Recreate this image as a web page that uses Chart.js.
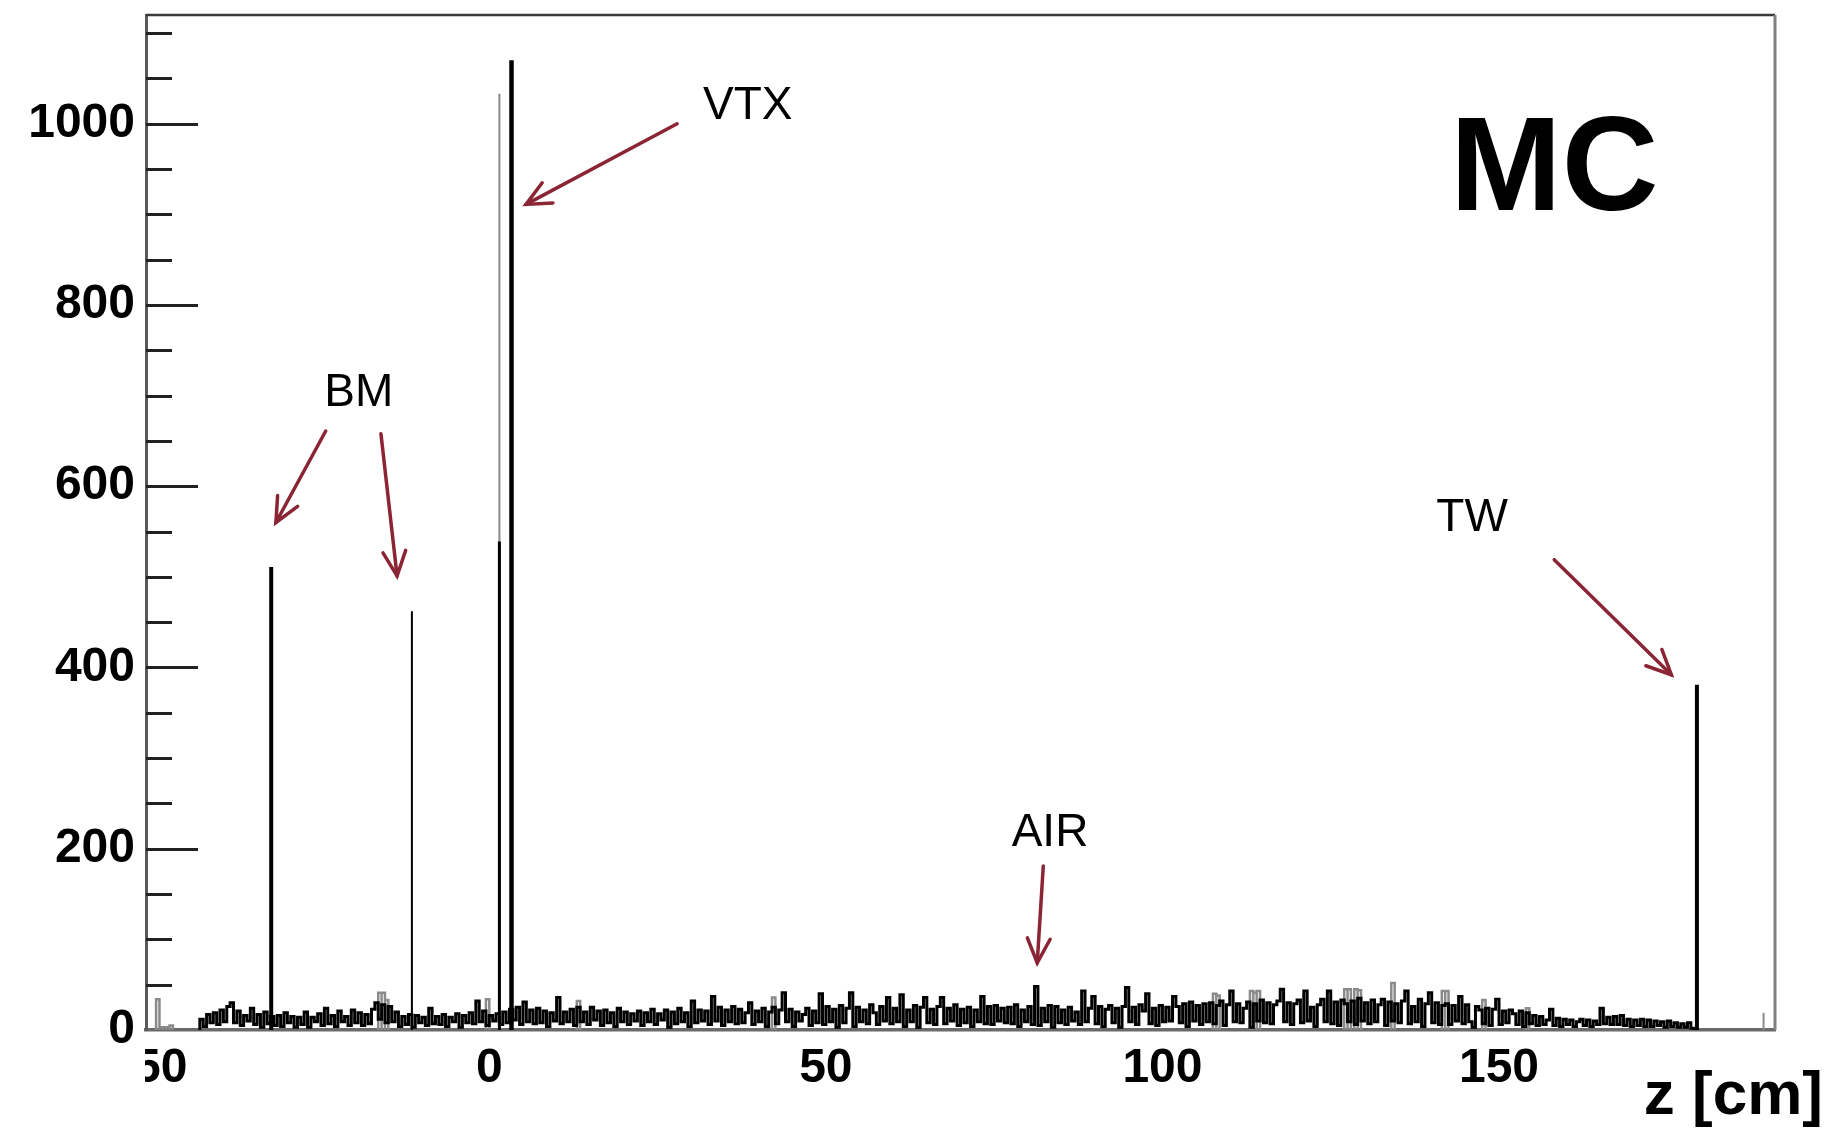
<!DOCTYPE html>
<html>
<head>
<meta charset="utf-8">
<title>z [cm] - MC</title>
<script src="https://cdn.jsdelivr.net/npm/chart.js@4.4.1/dist/chart.umd.min.js"></script>
<style>
  html, body { margin: 0; padding: 0; background: #fff; }
  .contenedor { width: 1830px; height: 1128px; position: relative; }
</style>
</head>
<body>
<div class="contenedor"><canvas id="grafico"></canvas></div>
<script>
// binning of the flat background (cm)
const binStart = -43;
const binWidth = 0.5;

// background counts, one per 0.5 cm bin from z = -43 to z = 179 (10 bins per row)
const backgroundCounts = [
  12, 4, 17, 8, 19, 6, 22, 9, 26, 30,
  8, 21, 5, 16, 10, 24, 6, 17, 3, 20,
  7, 15, 5, 16, 4, 19, 8, 15, 3, 14,
  6, 20, 3, 14, 9, 18, 5, 24, 7, 16,
  4, 21, 9, 15, 5, 22, 8, 19, 5, 17,
  7, 23, 30, 12, 28, 8, 26, 9, 20, 4,
  15, 6, 17, 3, 16, 8, 14, 5, 24, 7,
  15, 6, 17, 4, 14, 9, 18, 3, 16, 8,
  19, 7, 32, 9, 21, 5, 16, 10, 18, 6,
  20, 8, 23, 11, 25, 6, 31, 9, 22, 7,
  24, 8, 21, 4, 19, 10, 36, 7, 20, 9,
  23, 5, 25, 9, 20, 6, 25, 11, 21, 5,
  22, 8, 19, 4, 24, 9, 20, 6, 18, 10,
  21, 5, 19, 9, 23, 6, 18, 11, 22, 3,
  20, 7, 24, 9, 19, 4, 32, 8, 22, 10,
  21, 6, 37, 10, 25, 5, 22, 9, 26, 7,
  23, 8, 19, 30, 6, 21, 9, 24, 4, 20,
  25, 7, 22, 41, 9, 23, 4, 20, 10, 17,
  24, 5, 21, 8, 40, 6, 26, 9, 23, 3,
  27, 8, 24, 41, 4, 25, 9, 22, 7, 28,
  19, 6, 26, 10, 36, 7, 24, 9, 39, 4,
  22, 9, 27, 3, 25, 36, 8, 23, 6, 26,
  36, 7, 24, 10, 28, 5, 23, 8, 25, 4,
  22, 9, 37, 7, 26, 6, 27, 10, 24, 8,
  25, 7, 28, 4, 22, 9, 26, 6, 48, 5,
  24, 9, 27, 3, 26, 8, 22, 6, 25, 10,
  20, 6, 43, 9, 24, 37, 7, 26, 4, 23,
  27, 8, 24, 3, 26, 47, 9, 25, 6, 28,
  21, 40, 7, 24, 5, 27, 9, 25, 10, 37,
  26, 8, 29, 4, 31, 10, 27, 6, 29, 9,
  30, 7, 27, 32, 5, 28, 43, 9, 29, 8,
  24, 31, 3, 29, 10, 33, 8, 30, 7, 28,
  32, 45, 9, 30, 6, 29, 33, 8, 43, 10,
  25, 4, 28, 34, 9, 43, 7, 31, 5, 33,
  29, 9, 32, 6, 35, 10, 30, 7, 33, 9,
  28, 34, 5, 31, 10, 29, 8, 32, 43, 7,
  26, 9, 34, 4, 29, 41, 8, 30, 6, 27,
  29, 6, 27, 10, 37, 7, 28, 9, 3, 26,
  22, 7, 24, 5, 23, 34, 6, 21, 8, 22,
  18, 6, 21, 4, 19, 7, 16, 5, 15, 6,
  11, 23, 5, 13, 4, 12, 6, 11, 4, 9,
  12, 5, 11, 4, 10, 6, 24, 7, 14, 6,
  15, 6, 16, 5, 12, 4, 11, 5, 12, 4,
  11, 4, 10, 5, 9, 3, 10, 4, 8, 3,
  7, 3, 8, 2
];

// grey histogram, bins where it shows above the black one (low edge, counts)
const greyBinZ = [-49.5, -49, -48.5, -48, -47.5, -16.5, -16, -15.5, -0.5, 13, 42,
  107.5, 108, 113, 113.5, 114, 127, 127.5, 128.5, 129, 134, 141.5, 142, 147.5, 154];
const greyBinCounts = [34, 3, 3, 3, 5, 41, 41, 33, 34, 32, 36,
  40, 38, 43, 41, 43, 45, 45, 45, 44, 52, 43, 43, 33, 24];

// detector peaks: BM, BM, VTX, VTX, TW
const peakZ = [-32.4, -11.5, 1.5, 3.3, 179.4];
const peakCounts = [511, 462, 539, 1070, 381];
// grey peaks: VTX, after TW
const greyPeakZ = [1.5, 189.3];
const greyPeakCounts = [1033, 19];

const xTickValues = [-50, 0, 50, 100, 150];
const yTickValues = [0, 200, 400, 600, 800, 1000];

const FONT = '"Liberation Sans", Arial, Helvetica, sans-serif';
const ARROW_COLOR = '#8b2434';

// labels and arrows, anchored in (z, counts)
const notes = [
  { text: 'BM', z: -19.4, count: 689 },
  { text: 'VTX', z: 38.4, count: 1005 },
  { text: 'AIR', z: 83.3, count: 203 },
  { text: 'TW', z: 146.0, count: 551 }
];
const arrows = [
  { from: [-24.3, 661], to: [-31.7, 560] },
  { from: [-16.1, 658], to: [-13.7, 501] },
  { from: [27.9, 1000], to: [5.45, 911] },
  { from: [82.3, 181], to: [81.4, 74] },
  { from: [158.2, 519], to: [175.6, 392] }
];

const backgroundPoints = [{ x: binStart, y: 0 }];
backgroundCounts.forEach((c, i) => backgroundPoints.push({ x: binStart + i * binWidth, y: c }));
backgroundPoints.push({ x: binStart + backgroundCounts.length * binWidth, y: 0 });

const greyPoints = [];
greyBinZ.forEach((z, i) => {
  const c = greyBinCounts[i];
  greyPoints.push({ x: z, y: 0 }, { x: z, y: c }, { x: z + binWidth, y: c }, { x: z + binWidth, y: 0 }, { x: z + binWidth, y: null });
});

function spike(z, c, color, width, order) {
  return {
    data: [{ x: z, y: 0 }, { x: z, y: c }],
    borderColor: color,
    borderWidth: width,
    borderCapStyle: 'butt',
    pointRadius: 0,
    order: order
  };
}

const peakWidths = [4, 2, 3, 4.5, 4];
const greyPeakWidths = [2, 2];

const datasets = [
  {
    data: backgroundPoints,
    borderColor: '#000',
    borderWidth: 3,
    stepped: 'before',
    pointRadius: 0,
    order: 2
  },
  {
    data: greyPoints,
    borderColor: '#8a8a8a',
    borderWidth: 2.5,
    spanGaps: false,
    pointRadius: 0,
    order: 3
  }
];
peakZ.forEach((z, i) => datasets.push(spike(z, peakCounts[i], '#000', peakWidths[i], 0)));
greyPeakZ.forEach((z, i) => datasets.push(spike(z, greyPeakCounts[i], '#8a8a8a', greyPeakWidths[i], 1)));

const annotationPlugin = {
  id: 'anotaciones',
  afterDatasetsDraw(chart) {
    const { ctx } = chart;
    const xs = chart.scales.x, ys = chart.scales.y;
    ctx.save();

    ctx.fillStyle = '#000';
    ctx.textAlign = 'center';
    ctx.textBaseline = 'alphabetic';
    ctx.font = '46px ' + FONT;
    notes.forEach(n => ctx.fillText(n.text, xs.getPixelForValue(n.z), ys.getPixelForValue(n.count)));

    ctx.font = 'bold 134px ' + FONT;
    ctx.fillText('MC', xs.getPixelForValue(158.2), ys.getPixelForValue(905));

    ctx.strokeStyle = ARROW_COLOR;
    ctx.lineWidth = 3.5;
    ctx.lineCap = 'round';
    ctx.lineJoin = 'miter';
    arrows.forEach(a => {
      const x0 = xs.getPixelForValue(a.from[0]), y0 = ys.getPixelForValue(a.from[1]);
      const x1 = xs.getPixelForValue(a.to[0]), y1 = ys.getPixelForValue(a.to[1]);
      const ang = Math.atan2(y0 - y1, x0 - x1);
      const len = 27, spread = 25 * Math.PI / 180;
      ctx.beginPath();
      ctx.moveTo(x0, y0);
      ctx.lineTo(x1, y1);
      ctx.stroke();
      ctx.beginPath();
      ctx.moveTo(x1 + len * Math.cos(ang - spread), y1 + len * Math.sin(ang - spread));
      ctx.lineTo(x1, y1);
      ctx.lineTo(x1 + len * Math.cos(ang + spread), y1 + len * Math.sin(ang + spread));
      ctx.stroke();
    });
    ctx.restore();
  },
  afterDraw(chart) {
    const { ctx, chartArea: area } = chart;
    const ys = chart.scales.y;
    ctx.save();

    // inner ticks on the y axis, major every 200, minor every 50
    ctx.strokeStyle = '#222';
    ctx.lineWidth = 3;
    for (let v = 50; v <= 1100; v += 50) {
      const py = Math.round(ys.getPixelForValue(v)) + 0.5;
      const len = v % 200 === 0 ? 52 : 26;
      ctx.beginPath();
      ctx.moveTo(area.left, py);
      ctx.lineTo(area.left + len, py);
      ctx.stroke();
    }

    // frame: top and right edges
    ctx.strokeStyle = '#3a3a3a';
    ctx.lineWidth = 2.5;
    ctx.beginPath();
    ctx.moveTo(area.left, area.top);
    ctx.lineTo(area.right, area.top);
    ctx.stroke();
    ctx.strokeStyle = '#808080';
    ctx.lineWidth = 3;
    ctx.beginPath();
    ctx.moveTo(area.right, area.top);
    ctx.lineTo(area.right, area.bottom);
    ctx.stroke();

    // the corner below the y labels is blank, it hides the sign of -50
    ctx.fillStyle = '#fff';
    ctx.fillRect(0, area.bottom + 18, area.left - 1, chart.height - area.bottom);

    // axis title
    ctx.fillStyle = '#000';
    ctx.font = 'bold 62px ' + FONT;
    ctx.textAlign = 'right';
    ctx.textBaseline = 'alphabetic';
    ctx.fillText('z [cm]', chart.width - 7, chart.height - 14);
    ctx.restore();
  }
};

const ctx = document.getElementById('grafico').getContext('2d');
new Chart(ctx, {
  type: 'line',
  data: { datasets: datasets },
  options: {
    responsive: true,
    maintainAspectRatio: false,
    animation: false,
    layout: { padding: { top: 15, right: 55, left: 0, bottom: 0 } },
    plugins: { legend: { display: false }, tooltip: { enabled: false } },
    scales: {
      x: {
        type: 'linear',
        min: -51,
        max: 191,
        afterBuildTicks: scale => { scale.ticks = xTickValues.map(v => ({ value: v })); },
        afterFit: scale => { scale.height = 98; scale.paddingLeft = 0; scale.paddingRight = 0; },
        grid: { display: false, drawTicks: false },
        border: { display: true, color: '#6a6a6a', width: 3.5 },
        ticks: {
          color: '#000',
          padding: 10,
          font: { family: FONT, size: 48, weight: 'bold' },
          callback: v => String(v)
        }
      },
      y: {
        type: 'linear',
        min: 0,
        max: 1120,
        afterBuildTicks: scale => { scale.ticks = yTickValues.map(v => ({ value: v })); },
        afterFit: scale => { scale.width = 146; scale.paddingTop = 0; scale.paddingBottom = 0; },
        grid: { display: false, drawTicks: false },
        border: { display: true, color: '#5a5a5a', width: 3 },
        ticks: {
          color: '#000',
          padding: 11,
          font: { family: FONT, size: 48, weight: 'bold' },
          callback: v => String(v)
        }
      }
    }
  },
  plugins: [annotationPlugin]
});
</script>
</body>
</html>
